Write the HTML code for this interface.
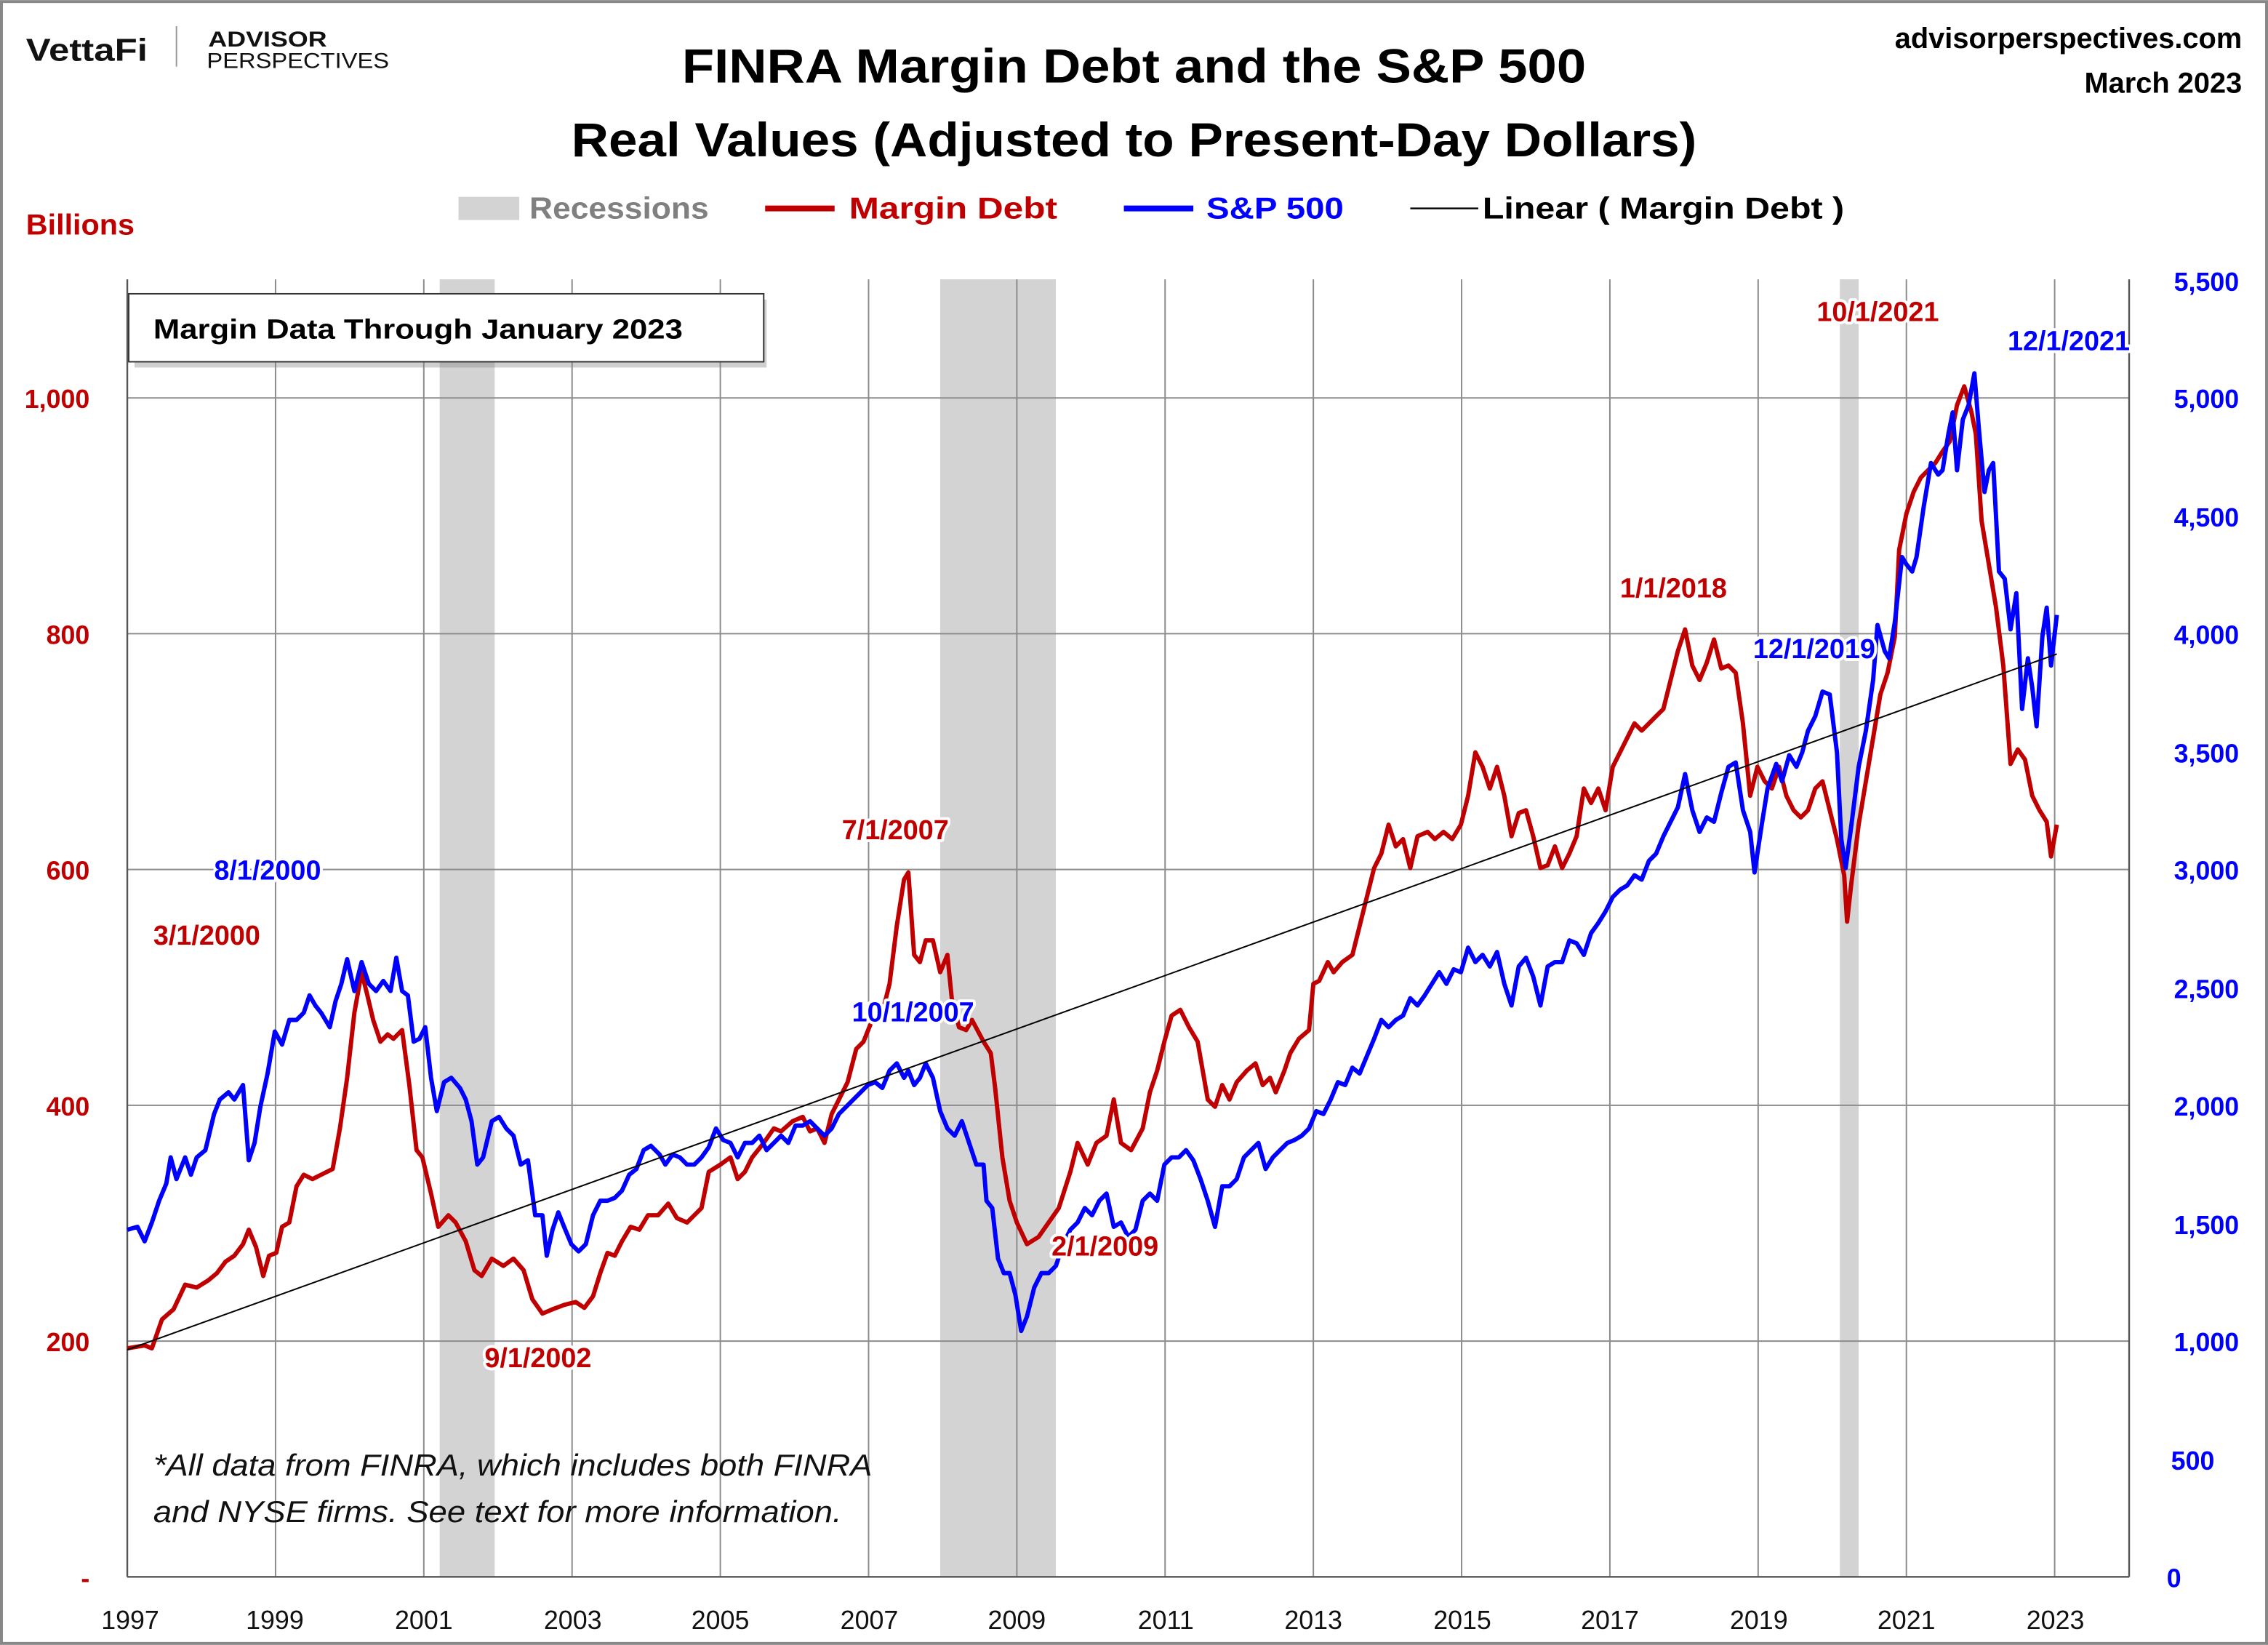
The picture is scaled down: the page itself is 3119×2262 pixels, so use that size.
<!DOCTYPE html>
<html><head><meta charset="utf-8"><style>
html,body{margin:0;padding:0;background:#fff;}
svg{display:block;}
text{font-family:"Liberation Sans",sans-serif;font-weight:bold;}
text.n{font-weight:normal;}
.ann{stroke:#fff;stroke-width:4;paint-order:stroke;stroke-linejoin:round;}
</style></head><body>
<svg width="3119" height="2262" viewBox="0 0 1568 1137" xmlns="http://www.w3.org/2000/svg">
<rect x="1" y="1" width="1566" height="1135" fill="#fff" stroke="#888" stroke-width="2"/>
<!-- logo -->
<text x="18" y="42" font-size="22" fill="#111" textLength="84" lengthAdjust="spacingAndGlyphs">VettaFi</text>
<line x1="122" y1="18" x2="122" y2="46" stroke="#999" stroke-width="1"/>
<text x="144" y="32" font-size="15" fill="#111" textLength="82" lengthAdjust="spacingAndGlyphs">ADVISOR</text>
<text class="n" x="143" y="47" font-size="15" fill="#111" textLength="126" lengthAdjust="spacingAndGlyphs">PERSPECTIVES</text>
<!-- title -->
<text x="784" y="57" font-size="33" text-anchor="middle" fill="#000" textLength="625" lengthAdjust="spacingAndGlyphs">FINRA Margin Debt and the S&amp;P 500</text>
<text x="784" y="108" font-size="33" text-anchor="middle" fill="#000" textLength="778" lengthAdjust="spacingAndGlyphs">Real Values (Adjusted to Present-Day Dollars)</text>
<text x="1550" y="33" font-size="20" text-anchor="end" fill="#000">advisorperspectives.com</text>
<text x="1550" y="64" font-size="20" text-anchor="end" fill="#000">March 2023</text>
<!-- legend -->
<rect x="317" y="136" width="42" height="16" fill="#d3d3d3"/>
<text x="366" y="151" font-size="21" fill="#808080" textLength="124" lengthAdjust="spacingAndGlyphs">Recessions</text>
<line x1="529" y1="144" x2="577" y2="144" stroke="#c00000" stroke-width="4"/>
<text x="587" y="151" font-size="21" fill="#c00000" textLength="144" lengthAdjust="spacingAndGlyphs">Margin Debt</text>
<line x1="777" y1="144" x2="825" y2="144" stroke="#0000ff" stroke-width="4"/>
<text x="834" y="151" font-size="21" fill="#0000ff" textLength="95" lengthAdjust="spacingAndGlyphs">S&amp;P 500</text>
<line x1="975" y1="144" x2="1022" y2="144" stroke="#000" stroke-width="1.2"/>
<text x="1025" y="151" font-size="21" fill="#000" textLength="250" lengthAdjust="spacingAndGlyphs">Linear ( Margin Debt )</text>
<text x="18" y="162" font-size="20" fill="#c00000" textLength="75" lengthAdjust="spacingAndGlyphs">Billions</text>
<!-- recessions -->
<rect x="304" y="193" width="38" height="897" fill="#d3d3d3"/>
<rect x="650" y="193" width="80" height="897" fill="#d3d3d3"/>
<rect x="1272" y="193" width="13" height="897" fill="#d3d3d3"/>
<!-- grid -->
<g stroke="#8c8c8c" stroke-width="1">
<line x1="88" y1="275" x2="1472" y2="275"/><line x1="88" y1="438" x2="1472" y2="438"/>
<line x1="88" y1="601" x2="1472" y2="601"/><line x1="88" y1="764" x2="1472" y2="764"/>
<line x1="88" y1="927" x2="1472" y2="927"/>
<line x1="190.5" y1="193" x2="190.5" y2="1090"/><line x1="293" y1="193" x2="293" y2="1090"/>
<line x1="395.5" y1="193" x2="395.5" y2="1090"/><line x1="498" y1="193" x2="498" y2="1090"/>
<line x1="600.5" y1="193" x2="600.5" y2="1090"/><line x1="703" y1="193" x2="703" y2="1090"/>
<line x1="805.5" y1="193" x2="805.5" y2="1090"/><line x1="908" y1="193" x2="908" y2="1090"/>
<line x1="1010.5" y1="193" x2="1010.5" y2="1090"/><line x1="1113" y1="193" x2="1113" y2="1090"/>
<line x1="1215.5" y1="193" x2="1215.5" y2="1090"/><line x1="1318" y1="193" x2="1318" y2="1090"/>
<line x1="1420.5" y1="193" x2="1420.5" y2="1090"/>
</g>
<g stroke="#555" stroke-width="1.2">
<line x1="88" y1="193" x2="88" y2="1090"/><line x1="1472" y1="193" x2="1472" y2="1090"/>
<line x1="88" y1="1090" x2="1472" y2="1090"/>
</g>
<!-- axis labels -->
<g font-size="18" fill="#c00000" text-anchor="end">
<text x="62" y="282">1,000</text><text x="62" y="445">800</text><text x="62" y="608">600</text>
<text x="62" y="771">400</text><text x="62" y="934">200</text><text x="62" y="1097">-</text>
</g>
<g font-size="18" fill="#0000ff" text-anchor="end">
<text x="1548" y="201">5,500</text><text x="1548" y="282">5,000</text><text x="1548" y="364">4,500</text>
<text x="1548" y="445">4,000</text><text x="1548" y="527">3,500</text><text x="1548" y="608">3,000</text>
<text x="1548" y="690">2,500</text><text x="1548" y="771">2,000</text><text x="1548" y="853">1,500</text>
<text x="1548" y="934">1,000</text><text x="1531" y="1016">500</text><text x="1508" y="1097">0</text>
</g>
<g font-size="18" fill="#111" text-anchor="middle">
<text class="n" x="90" y="1126">1997</text><text class="n" x="190" y="1126">1999</text>
<text class="n" x="293" y="1126">2001</text><text class="n" x="396" y="1126">2003</text>
<text class="n" x="498" y="1126">2005</text><text class="n" x="601" y="1126">2007</text>
<text class="n" x="703" y="1126">2009</text><text class="n" x="806" y="1126">2011</text>
<text class="n" x="908" y="1126">2013</text><text class="n" x="1011" y="1126">2015</text>
<text class="n" x="1113" y="1126">2017</text><text class="n" x="1216" y="1126">2019</text>
<text class="n" x="1318" y="1126">2021</text><text class="n" x="1421" y="1126">2023</text>
</g>
<!-- box -->
<rect x="93" y="207" width="437" height="47" fill="#888" opacity="0.4"/>
<rect x="89" y="203" width="439" height="47" fill="#fff" stroke="#333" stroke-width="1"/>
<text x="106" y="234" font-size="19" fill="#000" textLength="366" lengthAdjust="spacingAndGlyphs">Margin Data Through January 2023</text>
<!-- series -->
<polyline fill="none" stroke="#c00000" stroke-width="3" stroke-linejoin="round" points="88,932 100,930 105,932 112,912 120,905 128,888 136,890 144,885 150,880 156,872 162,868 168,860 172,850 177,862 182,882 186,868 191,866 195,848 200,845 205,820 210,812 216,815 222,812 230,808 235,780 240,745 245,700 250,672 254,688 258,705 263,720 268,715 272,718 278,712 283,750 288,795 292,800 298,825 303,848 310,840 315,845 322,858 328,878 333,882 340,870 348,875 355,870 362,878 368,898 375,908 382,905 390,902 398,900 404,904 410,896 415,880 420,866 425,868 430,858 436,848 442,850 448,840 455,840 462,832 468,842 475,845 480,840 485,835 490,810 498,805 505,800 510,815 515,810 520,800 528,790 535,780 540,782 548,775 555,772 560,782 565,780 570,790 575,770 580,760 586,748 592,725 597,720 603,705 610,700 615,680 620,640 625,608 628,603 632,660 636,665 640,650 645,650 650,672 655,660 658,690 663,710 668,712 672,705 680,720 685,728 688,752 693,800 698,830 703,845 710,860 718,855 725,845 732,835 740,810 745,790 752,805 758,790 765,785 770,760 775,790 782,795 790,780 795,755 800,740 805,720 810,702 816,698 822,710 828,720 835,760 840,765 845,750 850,760 855,748 862,740 868,735 873,750 878,745 882,755 888,740 892,728 898,718 905,712 908,680 912,678 918,665 922,672 928,665 935,660 940,640 945,620 950,600 955,590 960,570 965,585 970,580 975,600 980,578 987,575 992,580 998,575 1004,580 1010,570 1015,550 1020,520 1025,530 1030,545 1035,530 1040,550 1045,578 1050,562 1055,560 1060,578 1065,600 1070,598 1075,585 1080,600 1085,590 1090,578 1095,545 1100,555 1105,545 1110,560 1115,530 1120,520 1125,510 1130,500 1135,505 1140,500 1145,495 1150,490 1155,470 1160,450 1165,435 1170,460 1175,470 1180,458 1185,442 1190,462 1195,460 1200,465 1205,500 1210,550 1215,530 1220,540 1225,545 1230,530 1235,550 1240,560 1245,565 1250,560 1255,545 1260,540 1265,560 1270,580 1275,605 1277,637 1280,610 1285,570 1290,540 1295,510 1300,480 1305,465 1310,440 1313,380 1318,355 1323,340 1328,330 1333,325 1338,320 1343,312 1348,305 1353,280 1358,267 1363,285 1366,300 1370,360 1375,390 1380,420 1385,460 1390,528 1395,518 1400,525 1405,550 1410,560 1415,568 1418,592 1422,570"/>
<polyline fill="none" stroke="#0000ff" stroke-width="3" stroke-linejoin="round" points="88,850 95,848 100,858 105,845 110,830 115,818 118,800 122,815 128,800 132,812 136,800 142,795 148,770 152,760 158,755 162,760 168,750 172,802 176,790 180,765 185,742 190,713 195,722 200,705 205,705 210,700 214,688 218,695 222,700 228,710 232,692 236,680 240,663 245,685 250,665 255,680 260,685 265,678 270,685 274,662 278,685 282,688 286,720 290,718 294,710 298,745 302,768 307,748 312,745 318,752 322,760 326,775 330,805 334,800 340,775 345,772 350,780 355,785 360,805 365,802 370,840 375,840 378,868 382,850 386,838 390,848 395,860 400,865 405,860 410,840 415,830 420,830 425,828 430,823 435,812 440,808 445,795 450,792 456,798 460,805 465,798 470,800 475,805 480,805 485,800 490,793 495,780 500,788 505,790 510,800 515,790 520,790 525,785 530,795 535,790 540,785 545,790 550,778 555,778 560,775 565,780 570,785 575,780 580,770 585,765 590,760 595,755 600,750 605,748 610,752 615,740 620,735 625,745 628,740 632,750 636,745 640,735 645,745 650,768 655,780 660,785 665,775 670,790 675,805 680,805 682,830 686,835 690,870 694,880 698,880 702,895 706,920 710,910 715,890 720,880 725,880 730,875 735,860 740,850 745,845 750,835 755,840 760,830 765,825 770,848 775,845 780,855 785,850 790,830 795,825 800,830 805,805 810,800 815,800 820,795 825,802 830,815 835,830 840,848 845,820 850,820 855,815 860,800 865,795 870,790 875,808 880,800 885,795 890,790 895,788 900,785 905,780 910,768 915,770 920,760 925,748 930,750 935,738 940,742 945,730 950,718 955,705 960,710 965,705 970,702 975,690 980,695 985,688 990,680 995,672 1000,680 1005,670 1010,672 1015,655 1020,665 1025,660 1030,668 1035,658 1040,680 1045,695 1050,668 1055,662 1060,675 1065,695 1070,668 1075,665 1080,665 1085,650 1090,652 1095,660 1100,645 1105,638 1110,630 1115,620 1120,615 1125,612 1130,605 1135,608 1140,595 1145,590 1150,578 1155,568 1160,558 1165,535 1170,560 1175,575 1180,565 1185,568 1190,548 1195,530 1200,527 1205,560 1210,575 1213,603 1218,570 1222,545 1228,528 1232,540 1237,522 1242,530 1246,520 1250,505 1255,495 1260,478 1265,480 1270,520 1273,580 1276,600 1280,570 1285,530 1290,505 1295,470 1298,432 1303,450 1306,455 1310,430 1315,385 1318,390 1322,395 1325,385 1330,350 1335,320 1340,328 1343,325 1347,300 1350,285 1353,325 1357,290 1361,280 1365,258 1368,295 1372,340 1375,325 1378,320 1382,395 1386,400 1390,435 1394,410 1398,490 1402,455 1405,475 1408,502 1412,440 1415,420 1418,460 1422,425"/>
<line x1="88" y1="933" x2="1422" y2="452" stroke="#000" stroke-width="1"/>
<!-- annotations -->
<g font-size="19">
<text class="ann" x="148" y="608" fill="#0000ff">8/1/2000</text>
<text class="ann" x="106" y="653" fill="#c00000">3/1/2000</text>
<text class="ann" x="582" y="580" fill="#c00000">7/1/2007</text>
<text class="ann" x="589" y="706" fill="#0000ff">10/1/2007</text>
<text class="ann" x="335" y="945" fill="#c00000">9/1/2002</text>
<text class="ann" x="727" y="868" fill="#c00000">2/1/2009</text>
<text class="ann" x="1120" y="413" fill="#c00000">1/1/2018</text>
<text class="ann" x="1212" y="455" fill="#0000ff">12/1/2019</text>
<text class="ann" x="1256" y="222" fill="#c00000">10/1/2021</text>
<text class="ann" x="1388" y="242" fill="#0000ff">12/1/2021</text>
</g>
<g font-size="21" font-style="italic" fill="#111">
<text class="n" x="106" y="1020" textLength="497" lengthAdjust="spacingAndGlyphs">*All data from FINRA, which includes both FINRA</text>
<text class="n" x="106" y="1052" textLength="476" lengthAdjust="spacingAndGlyphs">and NYSE firms. See text for more information.</text>
</g>
</svg>
</body></html>
